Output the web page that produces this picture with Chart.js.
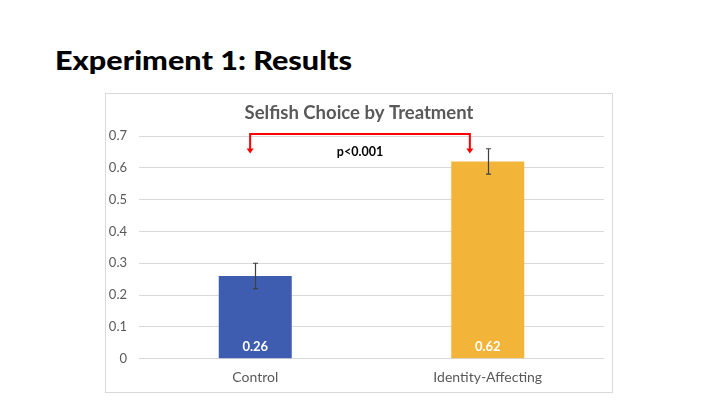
<!DOCTYPE html>
<html>
<head>
<meta charset="utf-8">
<script src="https://cdn.jsdelivr.net/npm/chart.js@4.4.1/dist/chart.umd.min.js"></script>
<style>
  html, body { margin: 0; padding: 0; background: #fff; width: 720px; height: 405px; overflow: hidden; }
  #heading { position: absolute; left: 55px; top: 43px; margin: 0; font-family: Lato, "Open Sans", sans-serif; font-weight: 900; font-size: 27px; color: #000; white-space: nowrap; transform-origin: left center; }
  #box { position: absolute; left: 105px; top: 93px; width: 506px; height: 298px; border: 1px solid #D9D9D9; }
  #box canvas { display: block; }
</style>
</head>
<body>
<h1 id="heading">Experiment 1: Results</h1>
<div id="box"><canvas id="c" width="506" height="298"></canvas></div>
<script>
// ---- data ----
const categories = ["Control", "Identity-Affecting"];
const selfishShare = [0.26, 0.62];
const errLow = [0.22, 0.58];
const errHigh = [0.30, 0.66];
const valueLabels = ["0.26", "0.62"];
const yTicks = [0, 0.1, 0.2, 0.3, 0.4, 0.5, 0.6, 0.7];
const chartTitle = "Selfish Choice by Treatment";
const sigLabel = "p<0.001";

const barColors = ["#3E5CB0", "#F2B53A"];
const FONT = "Lato, 'Open Sans', sans-serif";

// fit heading width to reference
(function(){
  const h = document.getElementById('heading');
  const w = h.getBoundingClientRect().width;
  const target = 297;
  h.style.transform = 'scaleX(' + (target / w) + ')';
})();

const overlay = {
  id: 'overlay',
  afterDatasetsDraw(chart) {
    const ctx = chart.ctx;
    const x = chart.scales.x, y = chart.scales.y;
    ctx.save();
    // title
    ctx.fillStyle = '#595959';
    ctx.font = "bold 18.5px " + FONT;
    ctx.textAlign = 'center';
    ctx.textBaseline = 'middle';
    ctx.fillText(chartTitle, chart.width / 2, 19);

    // error bars
    ctx.strokeStyle = '#404040';
    ctx.lineWidth = 1.2;
    for (let i = 0; i < categories.length; i++) {
      const cx = Math.round(x.getPixelForValue(i)) + 0.5;
      const yl = y.getPixelForValue(errLow[i]);
      const yh = y.getPixelForValue(errHigh[i]);
      ctx.beginPath();
      ctx.moveTo(cx, yl); ctx.lineTo(cx, yh);
      ctx.moveTo(cx - 2.5, yl); ctx.lineTo(cx + 2.5, yl);
      ctx.moveTo(cx - 2.5, yh); ctx.lineTo(cx + 2.5, yh);
      ctx.stroke();
    }

    // value labels inside bars
    ctx.fillStyle = '#FFFFFF';
    ctx.font = "bold 13px " + FONT;
    for (let i = 0; i < categories.length; i++) {
      const cx = x.getPixelForValue(i);
      ctx.fillText(valueLabels[i], cx, y.getPixelForValue(0) - 12);
    }

    // significance bracket
    const unit = x.getPixelForValue(1) - x.getPixelForValue(0);
    const lx = x.getPixelForValue(0) - 0.022 * unit;
    const rx = x.getPixelForValue(1) - 0.077 * unit;
    const topY = y.getPixelForValue(0.706);
    const tipY = y.getPixelForValue(0.645);
    ctx.strokeStyle = '#FF0000';
    ctx.fillStyle = '#FF0000';
    ctx.lineWidth = 2;
    ctx.beginPath();
    ctx.moveTo(lx, tipY - 4);
    ctx.lineTo(lx, topY);
    ctx.lineTo(rx, topY);
    ctx.lineTo(rx, tipY - 4);
    ctx.stroke();
    [lx, rx].forEach(ax => {
      ctx.beginPath();
      ctx.moveTo(ax - 3.5, tipY - 5);
      ctx.lineTo(ax + 3.5, tipY - 5);
      ctx.lineTo(ax, tipY);
      ctx.closePath();
      ctx.fill();
    });
    ctx.fillStyle = '#000000';
    ctx.font = "bold 12.5px " + FONT;
    ctx.fillText(sigLabel, (lx + rx) / 2, y.getPixelForValue(0.65));
    ctx.restore();
  }
};

new Chart(document.getElementById('c'), {
  type: 'bar',
  data: {
    labels: categories,
    datasets: [{
      data: selfishShare,
      backgroundColor: barColors,
      borderWidth: 0,
      categoryPercentage: 1,
      barPercentage: 0.314
    }]
  },
  options: {
    responsive: false,
    animation: false,
    devicePixelRatio: 1,
    layout: { padding: { top: 42, right: 8, left: 0, bottom: 0 } },
    plugins: { legend: { display: false }, title: { display: false }, tooltip: { enabled: false } },
    scales: {
      x: {
        grid: { display: false, drawTicks: false },
        border: { display: false },
        ticks: { color: '#595959', font: { family: FONT, size: 14 }, padding: 10 },
        afterFit(s) { s.height = 33.3; }
      },
      y: {
        min: 0, max: 0.7,
        afterBuildTicks(s) { s.ticks = yTicks.map(v => ({ value: v })); },
        grid: { color: '#D9D9D9', lineWidth: 1, drawTicks: false },
        border: { display: false },
        ticks: { color: '#595959', font: { family: FONT, size: 13 }, padding: 12,
                 callback: v => String(v) },
        afterFit(s) { s.width = 33; }
      }
    }
  },
  plugins: [overlay]
});
</script>
</body>
</html>
